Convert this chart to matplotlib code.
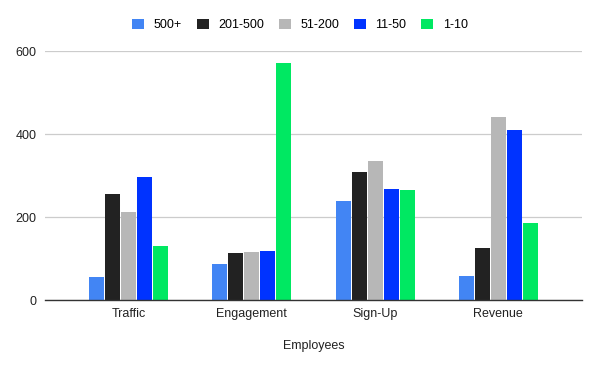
import numpy as np
import matplotlib.pyplot as plt

categories = ['Traffic', 'Engagement', 'Sign-Up', 'Revenue']
series_names = ['500+', '201-500', '51-200', '11-50', '1-10']
v_500plus = [56, 88, 238, 57]
v_201_500 = [255, 113, 308, 125]
v_51_200 = [212, 115, 335, 441]
v_11_50 = [296, 118, 267, 410]
v_1_10 = [130, 571, 265, 185]
colors = ['#4285f4', '#222222', '#b7b7b7', '#0033ff', '#00e862']

plt.rcParams['font.family'] = ['Liberation Sans', 'DejaVu Sans']

fig = plt.figure(figsize=(6, 3.71), dpi=100)
ax = fig.add_axes([0.075, 0.191, 0.895, 0.671])

x = np.arange(len(categories))
step = 0.13
w = 0.122
all_vals = [v_500plus, v_201_500, v_51_200, v_11_50, v_1_10]
for i, (name, vals, c) in enumerate(zip(series_names, all_vals, colors)):
    ax.bar(x + (i - 2) * step, vals, width=w, color=c, label=name, zorder=3)

ax.set_xlim(-0.68, 3.68)
ax.set_ylim(0, 600)
ax.set_yticks([0, 200, 400, 600])
ax.set_xticks(x)
ax.set_xticklabels(categories)
ax.grid(axis='y', color='#cccccc', linewidth=0.9, zorder=0)
for s in ['top', 'right', 'left']:
    ax.spines[s].set_visible(False)
ax.spines['bottom'].set_color('#333333')
ax.spines['bottom'].set_linewidth(1)
ax.spines['bottom'].set_zorder(4)
ax.tick_params(axis='both', length=0, labelsize=9, colors='#222222')
ax.tick_params(axis='x', pad=6)
ax.tick_params(axis='y', pad=6)
ax.set_xlabel('Employees', fontsize=9, color='#222222', labelpad=14)

ax.legend(loc='center', bbox_to_anchor=(0.475, 1.105), ncol=5, frameon=False,
          fontsize=9, handlelength=0.95, handleheight=0.95, handletextpad=0.75,
          columnspacing=1.2, borderaxespad=0, borderpad=0)

fig.savefig('out.png', dpi=100, facecolor='white')
